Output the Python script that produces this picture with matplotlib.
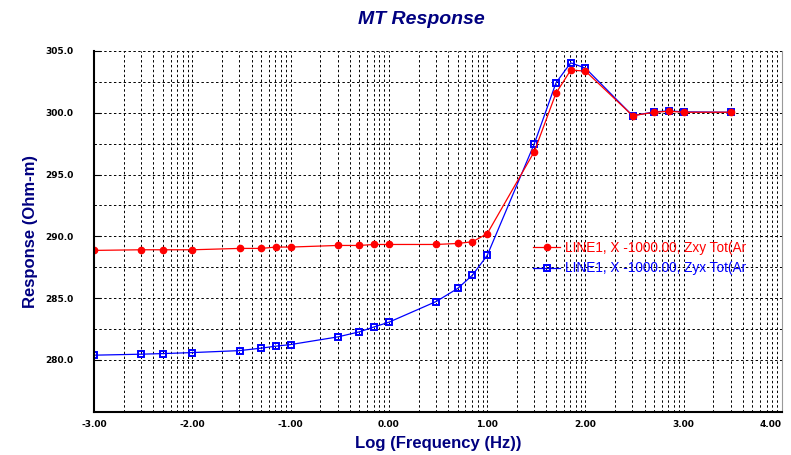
import numpy as np
import matplotlib.pyplot as plt

# log10 frequency of each station sample
log_freq = [-3.00, -2.52, -2.30, -2.00, -1.52, -1.30, -1.15, -1.00,
            -0.52, -0.30, -0.15, 0.00, 0.48, 0.70, 0.85, 1.00,
            1.48, 1.70, 1.85, 2.00, 2.48, 2.70, 2.85, 3.00, 3.48]

zxy = [288.86, 288.91, 288.91, 288.91, 289.02, 289.02, 289.13, 289.13,
       289.26, 289.26, 289.34, 289.34, 289.34, 289.42, 289.56, 290.21,
       296.86, 301.58, 303.45, 303.37, 299.76, 300.04, 300.12, 300.04, 300.04]

zyx = [280.38, 280.46, 280.51, 280.59, 280.75, 280.95, 281.11, 281.24,
       281.86, 282.27, 282.67, 283.05, 284.72, 285.78, 286.86, 288.45,
       297.50, 302.42, 304.04, 303.61, 299.76, 300.07, 300.15, 300.07, 300.04]

labels = ['LINE1, X -1000.00, Zxy Tot(Ar', 'LINE1, X -1000.00, Zyx Tot(Ar']
x_ticks = [-3, -2, -1, 0, 1, 2, 3, 4]
y_ticks = [280, 285, 290, 295, 300, 305]

navy = '#000080'

fig = plt.figure(figsize=(7.91, 4.55), dpi=100)
ax = fig.add_axes([0.119, 0.095, 0.8696, 0.793])

# blue first so the red line sits on top
l2, = ax.plot(log_freq, zyx, color='#0000ff', lw=0.9, marker='s', ms=4.5,
              mfc='none', mec='#0000ff', mew=1.4)
l1, = ax.plot(log_freq, zxy, color='#ff0000', lw=0.9, marker='o', ms=4.5,
              mfc='#ff0000', mec='#ff0000')

ax.set_xlim(-3, 4)
ax.set_ylim(275.8, 305)

ax.set_xticks(x_ticks)
ax.set_xticklabels(['%.2f' % v for v in x_ticks])
ax.set_yticks(y_ticks)
ax.set_yticklabels(['%.1f' % v for v in y_ticks])

# minor gridlines: log spacing inside each decade
minor_x = [d + np.log10(k) for d in range(-3, 4) for k in range(2, 10)]
ax.set_xticks(minor_x, minor=True)
ax.set_yticks([282.5 + 5 * i for i in range(5)], minor=True)
ax.tick_params(which='minor', length=0)
ax.tick_params(axis='x', which='major', length=0, pad=6)
ax.tick_params(axis='y', which='major', length=5, direction='in', pad=15)

ax.grid(True, which='both', color='black', linestyle=(0, (2.5, 2.5)), linewidth=0.7)
ax.set_axisbelow(True)

for lab in ax.get_xticklabels() + ax.get_yticklabels():
    lab.set_fontweight('bold')
    lab.set_fontsize(6.5)
    lab.set_family('DejaVu Sans')
ax.get_xticklabels()[-1].set_horizontalalignment('right')

ax.spines['top'].set_visible(False)
ax.spines['right'].set_color('#999999')
ax.spines['left'].set_linewidth(1.5)
ax.spines['bottom'].set_linewidth(1.5)

ax.set_xlabel('Log (Frequency (Hz))', fontsize=12, fontweight='bold', color=navy,
              family='Liberation Sans', labelpad=5)
ax.set_ylabel('Response (Ohm-m)', fontsize=12, fontweight='bold', color=navy,
              family='Liberation Sans', labelpad=5)
fig.text(0.533, 0.958, 'MT Response', ha='center', va='center', fontsize=14,
         fontweight='bold', fontstyle='italic', color=navy, family='Liberation Sans')

leg = ax.legend([l1, l2], labels, loc='upper left', bbox_to_anchor=(0.674, 0.47),
                bbox_transform=fig.transFigure, frameon=False,
                prop={'family': 'Liberation Sans', 'size': 9.8},
                handlelength=2.0, handletextpad=0.35, labelspacing=0.45,
                borderaxespad=0, borderpad=0)
for txt, c in zip(leg.get_texts(), ['#ff0000', '#0000ff']):
    txt.set_color(c)

fig.savefig('out.png', dpi=100)
